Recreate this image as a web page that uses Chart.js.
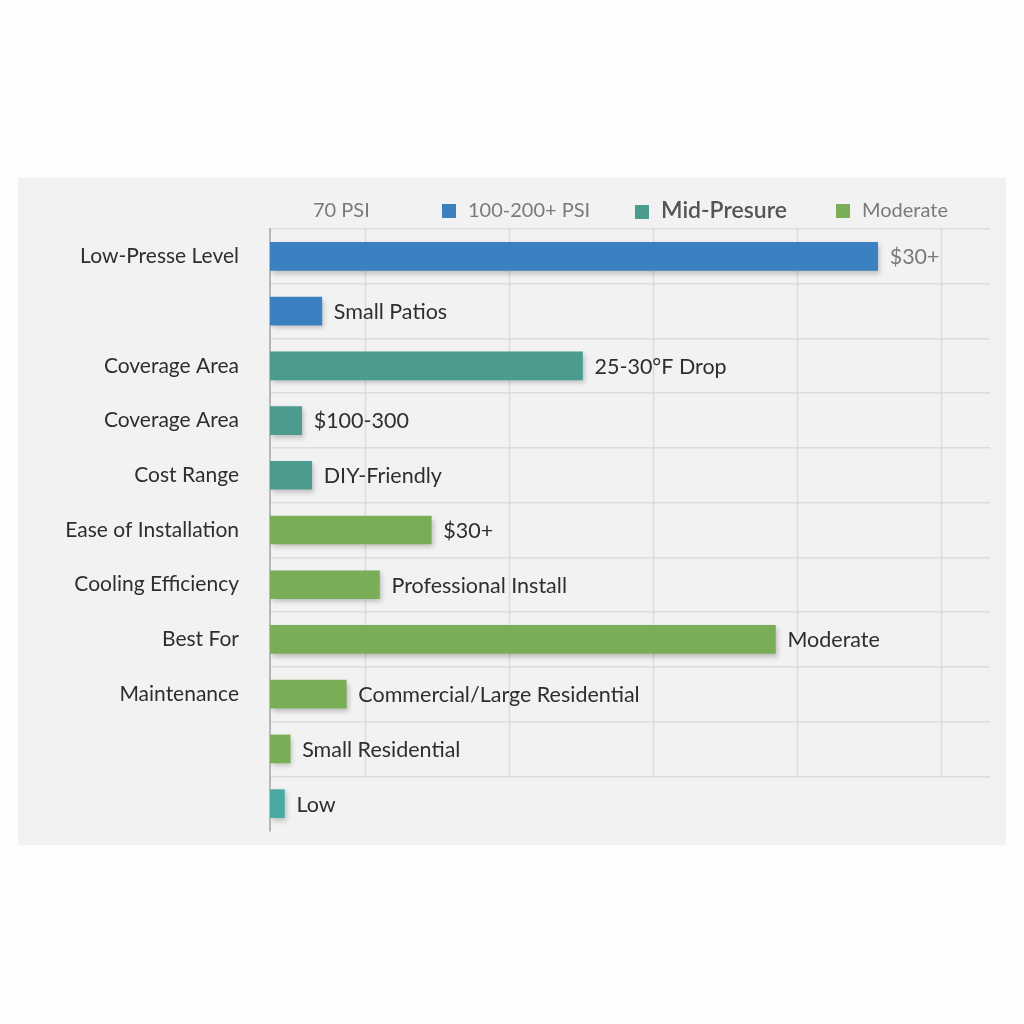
<!DOCTYPE html>
<html>
<head>
<meta charset="utf-8">
<script src="https://cdn.jsdelivr.net/npm/chart.js@4.4.1/dist/chart.umd.min.js"></script>
<style>
  html, body { margin: 0; padding: 0; background: #fdfdfd; }
  body { width: 1024px; height: 1024px; position: relative; font-family: Lato, 'Open Sans', sans-serif; }
  #panel {
    position: absolute; left: 18px; top: 178px; width: 988px; height: 667px;
    background: #f2f2f2;
  }
  #legend { position: absolute; left: 0; top: 17px; width: 988px; height: 28px; }
  .lg { position: absolute; top: 0; font-size: 20px; color: #7a7a7a; line-height: 28px; white-space: nowrap; }
  .lg i { display: inline-block; width: 14px; height: 14px; margin-right: 12px; vertical-align: -1px; }
  .lg.strong { font-size: 23px; color: #555; font-weight: 600; }
  #wrap { position: absolute; left: 0; top: 0; width: 988px; height: 667px; }
</style>
</head>
<body>
<div id="panel">
  <div id="wrap"><canvas id="chart"></canvas></div>
  <div id="legend"></div>
</div>
<script>
const categories = ['Low-Presse Level', '', 'Coverage Area', 'Coverage Area', 'Cost Range',
  'Ease of Installation', 'Cooling Efficiency', 'Best For', 'Maintenance', '', ''];
const values = [42.2, 3.6, 21.7, 2.2, 2.9, 11.2, 7.6, 35.1, 5.3, 1.4, 1.0];
const barLabels = ['$30+', 'Small Patios', '25-30°F Drop', '$100-300', 'DIY-Friendly', '$30+',
  'Professional Install', 'Moderate', 'Commercial/Large Residential', 'Small Residential', 'Low'];
const barColors = ['#3b80c0', '#3b80c0', '#4b9b8e', '#4b9b8e', '#4b9b8e', '#79ae57',
  '#79ae57', '#79ae57', '#79ae57', '#79ae57', '#4aa9a2'];
const gridTicks = [6.6, 16.6, 26.6, 36.6, 46.6];
const legendItems = [
  { text: '70 PSI', color: null, left: 295 },
  { text: '100-200+ PSI', color: '#3b80c0', left: 424 },
  { text: 'Mid-Presure', color: '#4b9b8e', left: 617, strong: true },
  { text: 'Moderate', color: '#79ae57', left: 818 }
];

const legendEl = document.getElementById('legend');
legendItems.forEach(it => {
  const d = document.createElement('div');
  d.className = 'lg' + (it.strong ? ' strong' : '');
  d.style.left = it.left + 'px';
  d.innerHTML = (it.color ? `<i style="background:${it.color}"></i>` : '') + it.text;
  legendEl.appendChild(d);
});

const FONT = "Lato, 'Open Sans', sans-serif";

const barExtras = {
  id: 'barExtras',
  beforeDatasetsDraw(chart) {
    const { ctx, chartArea, scales } = chart;
    const yb = scales.y.getPixelForValue(9) + (scales.y.getPixelForValue(1) - scales.y.getPixelForValue(0)) / 2;
    ctx.save();
    ctx.strokeStyle = '#dcdcdc';
    ctx.lineWidth = 1.5;
    scales.x.ticks.forEach(t => {
      const x = Math.round(scales.x.getPixelForValue(t.value)) + 0.5;
      ctx.beginPath();
      ctx.moveTo(x, chartArea.top);
      ctx.lineTo(x, yb);
      ctx.stroke();
    });
    ctx.restore();
    ctx.save();
    ctx.shadowColor = 'rgba(0,0,0,0.22)';
    ctx.shadowBlur = 5;
    ctx.shadowOffsetX = 2;
    ctx.shadowOffsetY = 3;
  },
  afterDatasetsDraw(chart) {
    const { ctx } = chart;
    ctx.restore();
    ctx.save();
    ctx.font = '21.5px ' + FONT;
    ctx.textBaseline = 'middle';
    ctx.textAlign = 'left';
    chart.getDatasetMeta(0).data.forEach((bar, i) => {
      ctx.fillStyle = i === 0 ? '#7a7a7a' : '#2e2e2e';
      ctx.fillText(barLabels[i], bar.x + 12, bar.y + 1);
    });
    ctx.restore();
  }
};

new Chart(document.getElementById('chart'), {
  type: 'bar',
  data: {
    labels: categories,
    datasets: [{
      data: values,
      backgroundColor: barColors,
      borderWidth: 0,
      barThickness: 28
    }]
  },
  options: {
    indexAxis: 'y',
    responsive: true,
    maintainAspectRatio: false,
    animation: false,
    layout: { padding: { top: 51, bottom: 14, right: 16, left: 0 } },
    plugins: { legend: { display: false }, tooltip: { enabled: false } },
    scales: {
      x: {
        min: 0, max: 50,
        afterBuildTicks: s => { s.ticks = gridTicks.map(v => ({ value: v })); },
        afterFit: s => { s.height = 0; },
        grid: { display: false },
        border: { display: false },
        ticks: { display: false }
      },
      y: {
        afterFit: s => { s.width = 252; s.paddingTop = 0; s.paddingBottom = 0; },
        grid: {
          offset: true,
          drawTicks: false,
          color: c => c.type === 'tick' ? '#dcdcdc' : 'rgba(0,0,0,0)',
          lineWidth: 1.5
        },
        border: { color: '#b8b8b8', width: 2 },
        ticks: {
          padding: 31,
          color: '#2e2e2e',
          font: { family: FONT, size: 21 }
        }
      }
    }
  },
  plugins: [barExtras]
});
</script>
</body>
</html>
